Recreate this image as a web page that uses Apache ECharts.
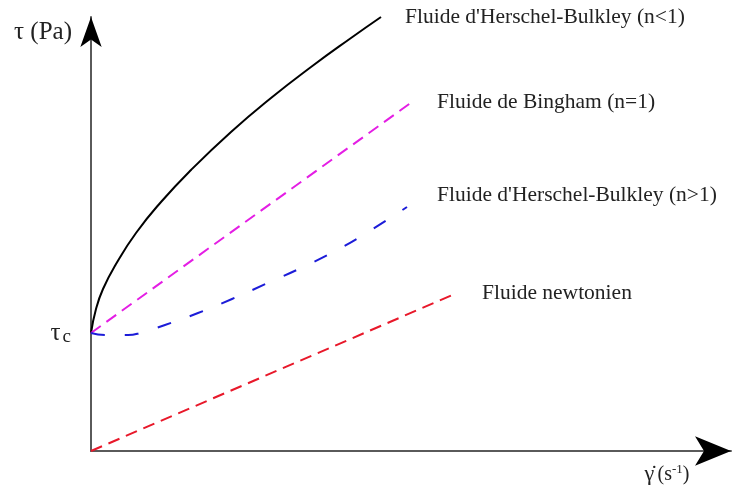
<!DOCTYPE html>
<html>
<head>
<meta charset="utf-8">
<script src="https://cdn.jsdelivr.net/npm/echarts@6/dist/echarts.min.js"></script>
<style>html,body{margin:0;padding:0;background:#fff}#c{width:733px;height:490px}</style>
</head>
<body>
<div id="c"></div>
<script>
// Arbitrary units (shear rate vs shear stress)
var tauC = 118;
var hbLowX  = [0, 5, 12, 25, 45, 70, 100, 140, 180, 220, 260, 290];
var hbLowY  = [118, 142, 162, 187, 218, 249, 281, 319, 353, 384, 413, 434];
var binghamX = [0, 321];
var binghamY = [118, 349];
var hbHighX = [0, 14, 37, 49, 74, 107, 141, 179, 212, 246, 277, 316];
var hbHighY = [118, 116, 116, 118, 126, 138, 152, 169, 184, 201, 219, 244];
var newtonX = [0, 366];
var newtonY = [0, 158];
var seriesNames = ["Fluide d'Herschel-Bulkley (n<1)", "Fluide de Bingham (n=1)", "Fluide d'Herschel-Bulkley (n>1)", "Fluide newtonien"];
var xMax = 640, yMax = 434;

function pairs(xs, ys){ return xs.map(function(x,i){ return [x, ys[i]]; }); }

var font = '"Liberation Serif", "DejaVu Serif", serif';
var txt = '#222';
function endLab(dist, off){
  return {show:true, formatter:'{a}', distance:dist, offset:off||[0,0], align:'left', verticalAlign:'middle',
          fontFamily:font, fontSize:21.5, color:txt};
}
var hidden = {show:false};

var chart = echarts.init(document.getElementById('c'));
chart.setOption({
  animation:false,
  grid:{left:91, top:17, right:2, bottom:39},
  xAxis:[
    {type:'value', min:0, max:xMax, splitLine:hidden, axisTick:hidden, axisLabel:hidden,
      axisLine:{show:true, lineStyle:{color:'#5a5a5a', width:2}},
      name:'{g|γ̇} {p|(s}{s|-1}{p|)}', nameLocation:'end', nameGap:-64,
      nameTextStyle:{align:'center', verticalAlign:'top', padding:[12,0,0,0],
        rich:{g:{fontFamily:font,fontSize:22,color:txt}, p:{fontFamily:font,fontSize:20,color:txt}, s:{fontFamily:font,fontSize:13,color:txt,verticalAlign:'top',padding:[0,0,10,0]}}}
    },
    {type:'value', min:0, max:xMax, position:'bottom', splitLine:hidden, axisTick:hidden, axisLabel:hidden,
      axisLine:{show:true, lineStyle:{color:'#000', width:0}, symbol:['none','arrow'], symbolSize:[22,36]}}
  ],
  yAxis:[
    {type:'value', min:0, max:yMax, splitLine:hidden, axisTick:hidden,
      axisLine:{show:true, lineStyle:{color:'#5a5a5a', width:2}},
      axisLabel:{show:true, customValues:[tauC], margin:20, formatter:function(){return '{t|τ}{c|c}';},
        rich:{t:{fontFamily:font,fontSize:25,color:txt}, c:{fontFamily:font,fontSize:19,color:txt,padding:[8,0,0,2]}}},
      name:'τ (Pa)', nameLocation:'end', nameGap:-15,
      nameTextStyle:{align:'right', verticalAlign:'middle', padding:[0,19,0,0], fontFamily:font, fontSize:25, color:txt}
    },
    {type:'value', min:0, max:yMax, position:'left', splitLine:hidden, axisTick:hidden, axisLabel:hidden,
      axisLine:{show:true, lineStyle:{color:'#000', width:0}, symbol:['none','arrow'], symbolSize:[16,30]}}
  ],
  series:[
    {name:seriesNames[0], type:'line', data:pairs(hbLowX,hbLowY), smooth:true, showSymbol:false,
      lineStyle:{color:'#000', width:2}, endLabel:endLab(24)},
    {name:seriesNames[1], type:'line', data:pairs(binghamX,binghamY), showSymbol:false,
      lineStyle:{color:'#e41ee4', width:2, type:[12,7]}, endLabel:endLab(25)},
    {name:seriesNames[2], type:'line', data:pairs(hbHighX,hbHighY), smooth:true, showSymbol:false,
      lineStyle:{color:'#1c1cd8', width:2, type:[14,20]}, endLabel:endLab(30,[0,-12])},
    {name:seriesNames[3], type:'line', data:pairs(newtonX,newtonY), showSymbol:false,
      lineStyle:{color:'#e8182a', width:2, type:[12,7]}, endLabel:endLab(25)}
  ]
});
</script>
</body>
</html>
